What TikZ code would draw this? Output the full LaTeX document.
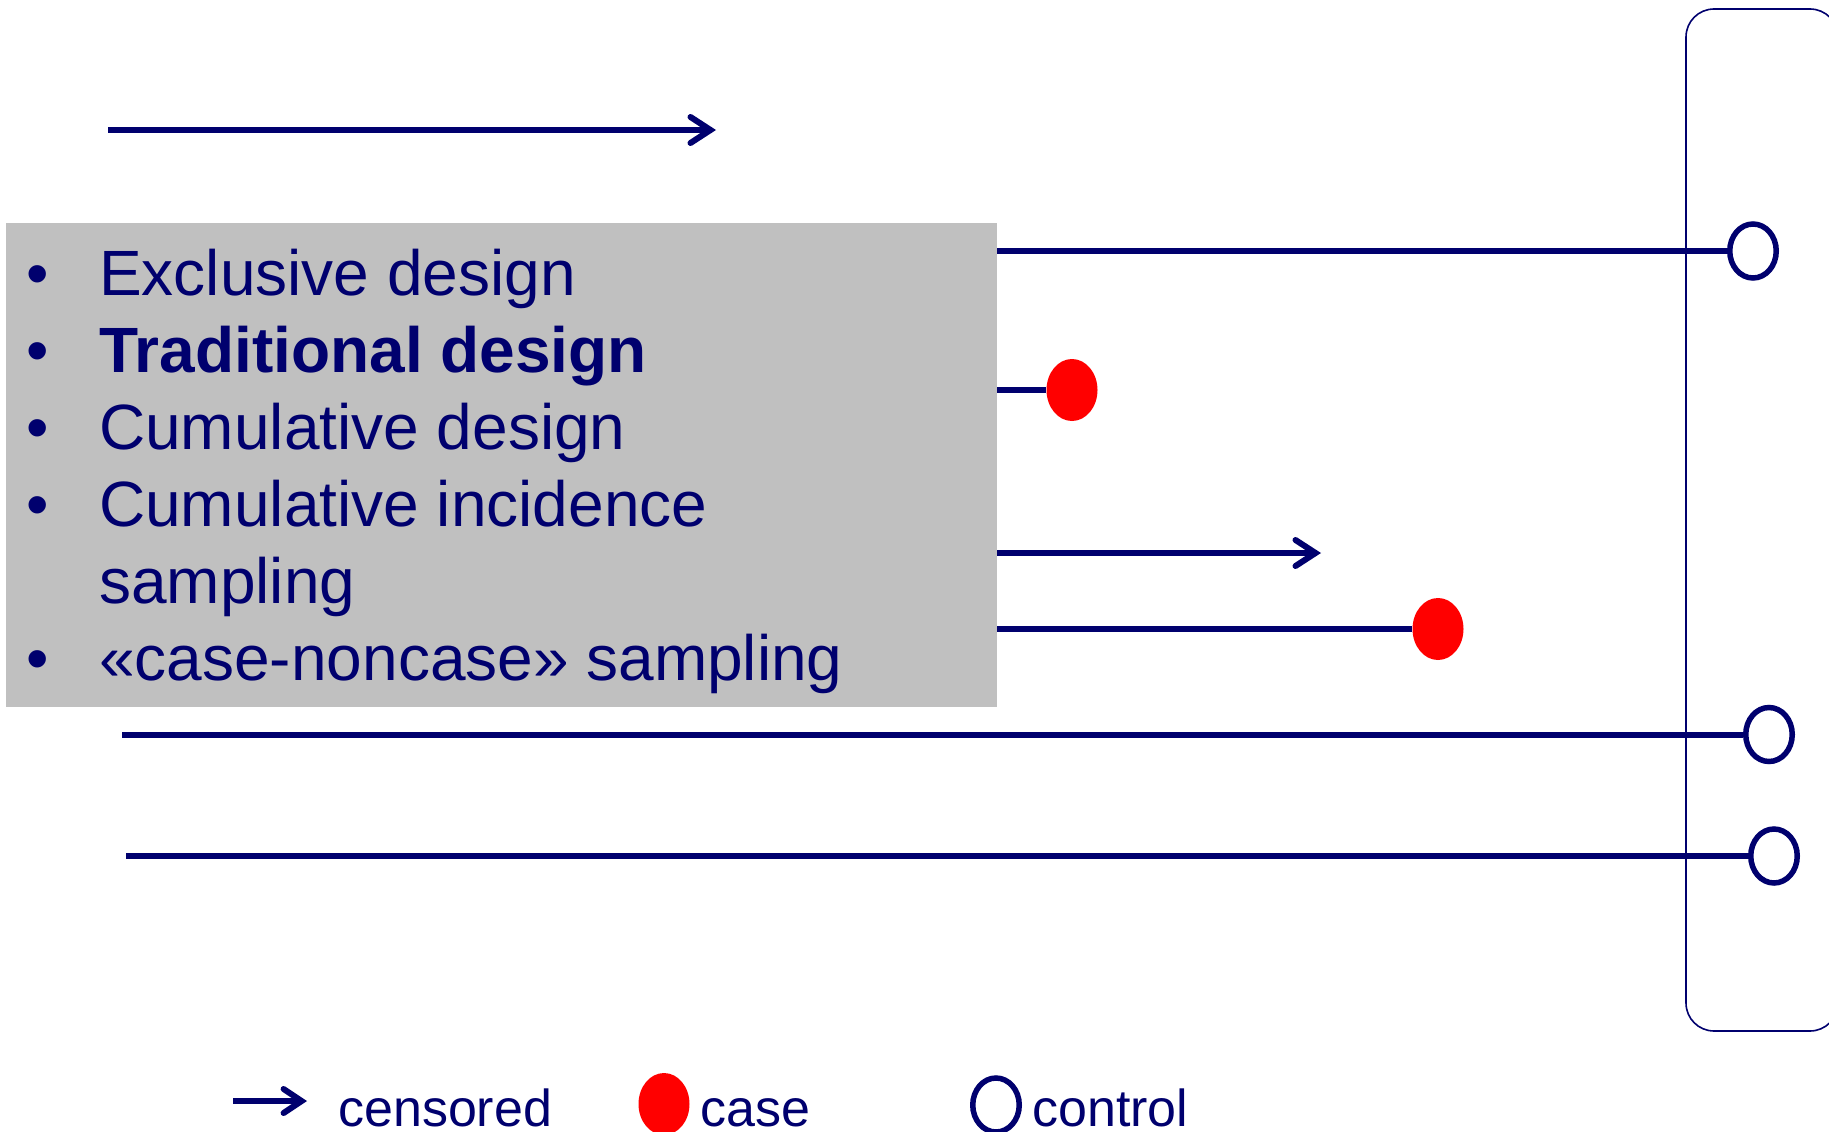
\documentclass[tikz,border=0pt]{standalone}
\usepackage{fontspec}
\setmainfont{Liberation Sans}
\usetikzlibrary{arrows.meta,shapes.geometric}
\definecolor{navy}{RGB}{0,0,110}
\definecolor{boxgray}{RGB}{192,192,192}
\definecolor{casered}{RGB}{255,0,0}
\tikzset{
  tline/.style={draw=navy, line width=6pt},
  censarrow/.style={tline, -{Straight Barb[length=20pt,width=26pt,line cap=round]}},
  casept/.style={ellipse, fill=casered, inner sep=0pt, minimum width=51pt, minimum height=62pt},
  ctrlpt/.style={ellipse, draw=navy, line width=5.5pt, fill=white, inner sep=0pt, minimum width=46.5pt, minimum height=54pt},
  listtxt/.style={anchor=base west, inner sep=0pt, text=navy, font=\fontsize{64}{77}\selectfont},
  legtxt/.style={anchor=base west, inner sep=0pt, text=navy, font=\fontsize{52}{62}\selectfont},
}
\begin{document}
\begin{tikzpicture}[x=1pt,y=-1pt]
\useasboundingbox[fill=white] (0,0) rectangle (1829,1132);

% bracket frame
\draw[navy, line width=1.6pt, rounded corners=28pt] (1686,9) rectangle (1838,1031);

% top censored arrow
\coordinate (t0) at (108,130);
\coordinate (t1) at (716,130);
\draw[censarrow] (t0) -- (t1);

% subject lines
\coordinate (s1) at (200,251);
\node[ctrlpt] (c1) at (1753,251) {};
\draw[tline] (s1) -- (c1);

\coordinate (s2) at (200,390);
\node[casept] (r1) at (1072,390) {};
\draw[tline] (s2) -- (r1);

\coordinate (s3) at (200,553);
\coordinate (e3) at (1321,553);
\draw[censarrow] (s3) -- (e3);

\coordinate (s4) at (200,629);
\node[casept] (r2) at (1438,629) {};
\draw[tline] (s4) -- (r2);

\coordinate (s5) at (122,734.5);
\node[ctrlpt] (c2) at (1769,734.5) {};
\draw[tline] (s5) -- (c2);

\coordinate (s6) at (126,856);
\node[ctrlpt] (c3) at (1774,856) {};
\draw[tline] (s6) -- (c3);

% gray box with list
\fill[boxgray] (6,223) rectangle (997,707);
\node[listtxt] (b1) at (26,295) {•};
\node[listtxt] (b2) at (26,372) {•};
\node[listtxt] (b3) at (26,449) {•};
\node[listtxt] (b4) at (26,526) {•};
\node[listtxt] (b5) at (26,680) {•};
\node[listtxt] (l1) at (99,295) {Exclusive design};
\node[listtxt] (l2) at (99,372) {\bfseries Traditional design};
\node[listtxt] (l3) at (99,449) {Cumulative design};
\node[listtxt] (l4) at (99,526) {Cumulative incidence};
\node[listtxt] (l4b) at (99,603) {sampling};
\node[listtxt] (l5) at (99,680) {«case-noncase» sampling};

% legend
\coordinate (la0) at (233,1101);
\coordinate (la1) at (307,1101);
\draw[tline, -{Straight Barb[length=18pt,width=24pt,line cap=round]}] (la0) -- (la1);
\node[legtxt] (lg1) at (338,1126) {censored};
\node[casept] (lr) at (664,1104) {};
\node[legtxt] (lg2) at (700,1126) {case};
\node[ctrlpt] (lc) at (996,1105) {};
\node[legtxt] (lg3) at (1032,1126) {control};
\end{tikzpicture}
\end{document}
